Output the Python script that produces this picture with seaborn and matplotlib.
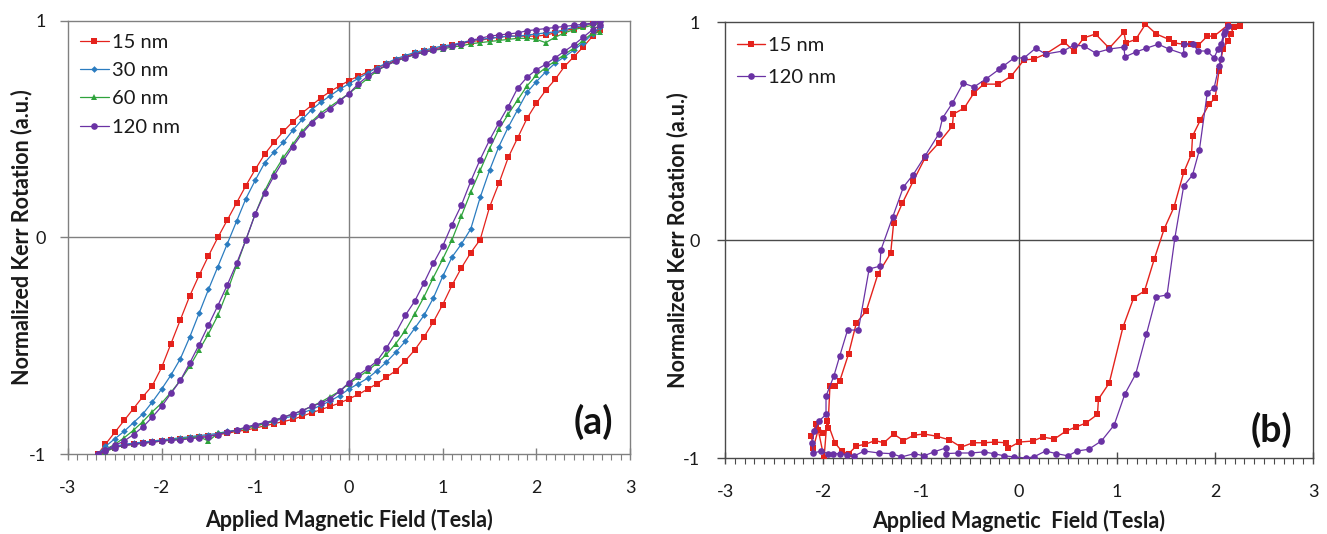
"""
Kerr rotation hysteresis loops, panels (a) and (b)
"""

import numpy as np
import pandas as pd
import matplotlib
matplotlib.use("Agg")
import matplotlib.pyplot as plt
from matplotlib.ticker import MultipleLocator
import seaborn as sns

# ------------------------------------------------------------
# Panel (a): field sweeps shared by all four thicknesses
# ------------------------------------------------------------
FIELD_DOWN = [2.68, 2.6, 2.5, 2.4, 2.3, 2.2, 2.1, 2.0, 1.9, 1.8,
              1.7, 1.6, 1.5, 1.4, 1.3, 1.2, 1.1, 1.0, 0.9, 0.8,
              0.7, 0.6, 0.5, 0.4, 0.3, 0.2, 0.1, 0.0, -0.1, -0.2,
              -0.3, -0.4, -0.5, -0.6, -0.7, -0.8, -0.9, -1.0, -1.1, -1.2,
              -1.3, -1.4, -1.5, -1.6, -1.7, -1.8, -1.9, -2.0, -2.1, -2.2,
              -2.3, -2.4, -2.5, -2.6, -2.68]
FIELD_UP = FIELD_DOWN[::-1]

KERR_15_DOWN = [1.0, 0.99, 0.975, 0.965, 0.955, 0.945, 0.935, 0.93, 0.93, 0.93,
                0.93, 0.925, 0.92, 0.91, 0.905, 0.895, 0.89, 0.88, 0.87, 0.86,
                0.85, 0.835, 0.82, 0.80, 0.785, 0.765, 0.745, 0.725, 0.70, 0.675,
                0.645, 0.61, 0.575, 0.535, 0.49, 0.44, 0.385, 0.315, 0.24, 0.16,
                0.08, 0.0, -0.085, -0.175, -0.27, -0.38, -0.49, -0.60, -0.685, -0.735,
                -0.79, -0.845, -0.90, -0.955, -1.0]
KERR_15_UP = [-1.0, -0.985, -0.97, -0.96, -0.955, -0.95, -0.945, -0.94, -0.935, -0.93,
              -0.925, -0.92, -0.915, -0.91, -0.905, -0.895, -0.89, -0.88, -0.87, -0.86,
              -0.85, -0.84, -0.825, -0.81, -0.795, -0.78, -0.765, -0.745, -0.725, -0.70,
              -0.675, -0.645, -0.615, -0.57, -0.52, -0.46, -0.39, -0.31, -0.22, -0.14,
              -0.07, -0.01, 0.14, 0.25, 0.37, 0.46, 0.55, 0.62, 0.68, 0.73,
              0.79, 0.835, 0.88, 0.93, 0.96]

KERR_30_DOWN = [1.0, 0.99, 0.98, 0.97, 0.96, 0.95, 0.945, 0.94, 0.935, 0.93,
                0.93, 0.925, 0.92, 0.915, 0.91, 0.90, 0.89, 0.885, 0.875, 0.865,
                0.855, 0.84, 0.825, 0.805, 0.785, 0.76, 0.735, 0.71, 0.685, 0.655,
                0.625, 0.59, 0.545, 0.495, 0.44, 0.395, 0.345, 0.265, 0.18, 0.075,
                -0.03, -0.135, -0.24, -0.35, -0.46, -0.56, -0.635, -0.70, -0.76, -0.815,
                -0.855, -0.895, -0.93, -0.965, -1.0]
KERR_30_UP = [-1.0, -0.98, -0.965, -0.955, -0.95, -0.945, -0.94, -0.935, -0.93, -0.925,
              -0.92, -0.915, -0.91, -0.905, -0.895, -0.89, -0.88, -0.87, -0.86, -0.85,
              -0.835, -0.825, -0.81, -0.795, -0.775, -0.755, -0.73, -0.70, -0.675, -0.65,
              -0.615, -0.575, -0.53, -0.48, -0.42, -0.36, -0.28, -0.18, -0.09, -0.03,
              0.04, 0.185, 0.31, 0.42, 0.51, 0.59, 0.67, 0.72, 0.765, 0.805,
              0.835, 0.865, 0.90, 0.94, 0.97]

KERR_60_DOWN = [0.99, 0.98, 0.97, 0.96, 0.945, 0.925, 0.90, 0.915, 0.92, 0.92,
                0.915, 0.91, 0.905, 0.90, 0.895, 0.885, 0.88, 0.87, 0.865, 0.855,
                0.845, 0.83, 0.815, 0.795, 0.77, 0.735, 0.70, 0.665, 0.635, 0.605,
                0.575, 0.535, 0.49, 0.43, 0.37, 0.30, 0.215, 0.11, -0.01, -0.13,
                -0.25, -0.36, -0.445, -0.52, -0.595, -0.66, -0.715, -0.765, -0.805, -0.85,
                -0.89, -0.925, -0.955, -0.98, -1.0]
KERR_60_UP = [-1.0, -0.99, -0.97, -0.96, -0.955, -0.95, -0.945, -0.94, -0.935, -0.93,
              -0.925, -0.92, -0.94, -0.905, -0.90, -0.89, -0.88, -0.87, -0.86, -0.845,
              -0.83, -0.815, -0.80, -0.78, -0.76, -0.735, -0.71, -0.675, -0.645, -0.615,
              -0.58, -0.54, -0.49, -0.43, -0.355, -0.275, -0.185, -0.10, -0.01, 0.10,
              0.21, 0.31, 0.41, 0.50, 0.57, 0.635, 0.70, 0.75, 0.785, 0.815,
              0.845, 0.875, 0.91, 0.945, 0.95]

KERR_120_DOWN = [1.0, 0.99, 0.985, 0.98, 0.975, 0.97, 0.965, 0.96, 0.955, 0.945,
                 0.94, 0.935, 0.93, 0.92, 0.91, 0.895, 0.885, 0.875, 0.865, 0.855,
                 0.845, 0.83, 0.815, 0.795, 0.775, 0.745, 0.71, 0.665, 0.63, 0.595,
                 0.565, 0.53, 0.48, 0.42, 0.355, 0.285, 0.205, 0.11, -0.01, -0.12,
                 -0.22, -0.315, -0.405, -0.495, -0.58, -0.66, -0.72, -0.78, -0.83, -0.875,
                 -0.91, -0.94, -0.96, -0.98, -1.0]
KERR_120_UP = [-1.0, -0.985, -0.97, -0.96, -0.955, -0.95, -0.945, -0.94, -0.937, -0.935,
               -0.93, -0.925, -0.92, -0.91, -0.90, -0.89, -0.875, -0.865, -0.855, -0.845,
               -0.83, -0.815, -0.80, -0.78, -0.765, -0.745, -0.71, -0.67, -0.635, -0.605,
               -0.57, -0.51, -0.44, -0.36, -0.295, -0.21, -0.12, -0.04, 0.06, 0.15,
               0.26, 0.36, 0.45, 0.53, 0.605, 0.69, 0.74, 0.775, 0.80, 0.83,
               0.86, 0.89, 0.925, 0.96, 0.98]

# ------------------------------------------------------------
# Panel (b): measured loops, points in sweep order
# ------------------------------------------------------------
B15_FIELD = [2.25, 2.13, 1.99, 1.92, 1.83, 1.75, 1.68, 1.58, 1.53, 1.40,
             1.29, 1.19, 1.09, 1.07, 0.92, 0.78, 0.66, 0.56, 0.46, 0.27,
             0.15, 0.05, -0.08, -0.21, -0.36, -0.46, -0.56, -0.67, -0.68, -0.82,
             -0.96, -1.08, -1.19, -1.28, -1.31, -1.44, -1.56, -1.66, -1.74, -1.83,
             -1.88, -1.93, -1.95, -2.0, -2.07, -2.12, -2.10, -2.05, -1.99, -1.96,
             -1.88, -1.81, -1.74, -1.66, -1.57, -1.47, -1.38, -1.28, -1.18, -1.07,
             -0.97, -0.84, -0.71, -0.59, -0.47, -0.36, -0.25, -0.13, -0.11, 0.0,
             0.14, 0.24, 0.36, 0.48, 0.58, 0.68, 0.80, 0.81, 0.92, 1.06,
             1.17, 1.28, 1.38, 1.48, 1.58, 1.68, 1.76, 1.77, 1.85, 1.94,
             2.0, 2.04, 2.08, 2.13, 2.16, 2.19]
B15_KERR = [0.98, 0.986, 0.935, 0.935, 0.894, 0.898, 0.898, 0.904, 0.92, 0.945,
            0.99, 0.92, 0.904, 0.954, 0.88, 0.945, 0.927, 0.867, 0.908, 0.853,
            0.83, 0.826, 0.752, 0.715, 0.715, 0.675, 0.605, 0.578, 0.523, 0.445,
            0.376, 0.27, 0.17, 0.078, -0.06, -0.156, -0.326, -0.38, -0.523, -0.647,
            -0.67, -0.67, -0.862, -0.885, -0.844, -0.9, -0.954, -0.87, -1.0, -0.83,
            -0.93, -0.968, -0.98, -0.945, -0.937, -0.92, -0.93, -0.89, -0.92, -0.895,
            -0.89, -0.9, -0.917, -0.95, -0.93, -0.93, -0.927, -0.93, -0.955, -0.927,
            -0.922, -0.904, -0.913, -0.876, -0.858, -0.84, -0.8, -0.73, -0.656, -0.40,
            -0.265, -0.234, -0.087, 0.05, 0.15, 0.31, 0.395, 0.477, 0.55, 0.624,
            0.65, 0.775, 0.876, 0.913, 0.945, 0.977]

B120_FIELD = [2.10, 2.06, 2.03, 1.99, 1.92, 1.83, 1.77, 1.68, 1.68, 1.53,
              1.42, 1.30, 1.19, 1.08, 1.07, 0.92, 0.78, 0.66, 0.56, 0.45,
              0.27, 0.17, 0.05, -0.05, -0.16, -0.20, -0.34, -0.46, -0.57, -0.68,
              -0.78, -0.82, -0.96, -1.08, -1.18, -1.29, -1.41, -1.42, -1.53, -1.64,
              -1.75, -1.83, -1.89, -1.97, -1.97, -2.04, -2.09, -2.11, -2.10, -2.02,
              -1.95, -1.90, -1.83, -1.76, -1.68, -1.58, -1.43, -1.30, -1.20, -1.07,
              -0.97, -0.87, -0.75, -0.75, -0.62, -0.49, -0.36, -0.26, -0.15, -0.05,
              0.07, 0.15, 0.27, 0.38, 0.50, 0.59, 0.71, 0.84, 0.97, 1.08,
              1.19, 1.30, 1.40, 1.51, 1.59, 1.68, 1.77, 1.84, 1.92, 1.99,
              2.04, 2.06, 2.09, 2.13]
B120_KERR = [0.96, 0.90, 0.876, 0.835, 0.867, 0.867, 0.90, 0.898, 0.853, 0.876,
             0.898, 0.88, 0.862, 0.84, 0.885, 0.876, 0.858, 0.89, 0.894, 0.867,
             0.853, 0.88, 0.835, 0.835, 0.798, 0.784, 0.738, 0.702, 0.72, 0.628,
             0.56, 0.486, 0.385, 0.30, 0.243, 0.105, -0.046, -0.12, -0.133, -0.413,
             -0.413, -0.532, -0.624, -0.716, -0.80, -0.83, -0.876, -0.93, -0.977, -0.968,
             -0.98, -0.98, -0.98, -0.986, -0.99, -0.968, -0.977, -0.98, -0.995, -0.98,
             -0.99, -0.972, -0.954, -0.98, -0.977, -0.977, -0.972, -0.98, -0.99, -0.995,
             -1.0, -0.995, -0.968, -0.98, -0.99, -0.968, -0.96, -0.922, -0.849, -0.706,
             -0.615, -0.431, -0.261, -0.252, 0.01, 0.248, 0.298, 0.413, 0.674, 0.697,
             0.798, 0.83, 0.945, 0.982]

LABELS_A = ["15 nm", "30 nm", "60 nm", "120 nm"]
COLORS = {"15 nm": "#e4221c", "30 nm": "#2b7cc0", "60 nm": "#2fa33c", "120 nm": "#6a32a4"}
MARKERS = {"15 nm": "s", "30 nm": "D", "60 nm": "^", "120 nm": "o"}
MSIZE = {"15 nm": 4.0, "30 nm": 3.4, "60 nm": 4.6, "120 nm": 4.8}

TEXT_COLOR = "#1a1a1a"


def loop_frame(label, h_down, m_down, h_up, m_up):
    h = list(h_down) + list(h_up)
    m = list(m_down) + list(m_up)
    return pd.DataFrame({"field": h, "kerr": m, "order": np.arange(len(h)), "sample": label})


def style_axes(ax, gray, ylabel_x, xlabel_y, tick_pad_y):
    ax.set_xlim(-3, 3)
    ax.set_ylim(-1, 1)
    ax.set_xticks([-3, -2, -1, 0, 1, 2, 3])
    ax.set_yticks([-1, 0, 1])
    ax.xaxis.set_minor_locator(MultipleLocator(0.1))
    for side in ["left", "right", "top", "bottom"]:
        ax.spines[side].set_visible(True)
        ax.spines[side].set_color(gray)
        ax.spines[side].set_linewidth(1.0)
    ax.axhline(0, color=gray, lw=1.0, zorder=1)
    ax.axvline(0, color=gray, lw=1.0, zorder=1)
    ax.tick_params(axis="x", which="major", direction="inout", length=8, width=1,
                   color=gray, pad=15, labelsize=13, labelcolor=TEXT_COLOR,
                   top=False, bottom=True)
    ax.tick_params(axis="x", which="minor", direction="out", length=4, width=0.8,
                   color=gray, top=False, bottom=True)
    ax.tick_params(axis="y", which="major", direction="out", length=6, width=1,
                   color=gray, pad=tick_pad_y, labelsize=13, labelcolor=TEXT_COLOR,
                   left=True, right=False)
    ax.set_ylabel("Normalized Kerr Rotation (a.u.)", fontsize=15.5, fontweight="bold", color=TEXT_COLOR)
    ax.xaxis.set_label_coords(0.5, xlabel_y)
    ax.yaxis.set_label_coords(ylabel_x, 0.5)


def draw_series(ax, df, label, lw=0.9):
    sns.lineplot(data=df, x="field", y="kerr", sort=False, estimator=None, ax=ax,
                 color=COLORS[label], marker=MARKERS[label], markersize=MSIZE[label],
                 markeredgecolor=COLORS[label], markeredgewidth=0, linewidth=lw,
                 label=label, zorder=3)


sns.set_theme(style="ticks")
plt.rcParams["font.family"] = ["Lato", "DejaVu Sans"]
plt.rcParams["axes.unicode_minus"] = False

fig = plt.figure(figsize=(13.27, 5.34), dpi=100)
ax_a = fig.add_axes([0.0512, 0.1498, 0.4236, 0.8109])
ax_b = fig.add_axes([0.5464, 0.1423, 0.4431, 0.8165])

# panel (a)
panel_a = {
    "15 nm": loop_frame("15 nm", FIELD_DOWN, KERR_15_DOWN, FIELD_UP, KERR_15_UP),
    "30 nm": loop_frame("30 nm", FIELD_DOWN, KERR_30_DOWN, FIELD_UP, KERR_30_UP),
    "60 nm": loop_frame("60 nm", FIELD_DOWN, KERR_60_DOWN, FIELD_UP, KERR_60_UP),
    "120 nm": loop_frame("120 nm", FIELD_DOWN, KERR_120_DOWN, FIELD_UP, KERR_120_UP),
}
for lab in LABELS_A:
    draw_series(ax_a, panel_a[lab], lab)

style_axes(ax_a, "#808080", ylabel_x=-0.064, xlabel_y=-0.128, tick_pad_y=10)
ax_a.set_xlabel("Applied Magnetic Field (Tesla)", fontsize=15.5, fontweight="bold", color=TEXT_COLOR)
ax_a.legend(loc="upper left", bbox_to_anchor=(0.022, 0.97), frameon=False, fontsize=14.5,
            handlelength=1.4, handletextpad=0.15, labelspacing=0.55, borderpad=0,
            borderaxespad=0, labelcolor=TEXT_COLOR)
ax_a.text(0.934, 0.074, "(a)", transform=ax_a.transAxes, fontsize=27, fontweight="bold",
          ha="center", va="center", color="#111111")

# panel (b)
df_b15 = pd.DataFrame({"field": B15_FIELD, "kerr": B15_KERR, "sample": "15 nm"})
df_b120 = pd.DataFrame({"field": B120_FIELD, "kerr": B120_KERR, "sample": "120 nm"})
draw_series(ax_b, df_b15, "15 nm", lw=1.0)
draw_series(ax_b, df_b120, "120 nm", lw=0.9)

style_axes(ax_b, "#4a4a4a", ylabel_x=-0.062, xlabel_y=-0.118, tick_pad_y=12)
ax_b.set_xlabel("Applied Magnetic  Field (Tesla)", fontsize=15.5, fontweight="bold", color=TEXT_COLOR)
ax_b.legend(loc="upper left", bbox_to_anchor=(0.02, 0.965), frameon=False, fontsize=14.5,
            handlelength=1.4, handletextpad=0.15, labelspacing=0.72, borderpad=0,
            borderaxespad=0, labelcolor=TEXT_COLOR)
ax_b.text(0.93, 0.064, "(b)", transform=ax_b.transAxes, fontsize=27, fontweight="bold",
          ha="center", va="center", color="#111111")

fig.savefig("out.png", dpi=100, facecolor="white")
